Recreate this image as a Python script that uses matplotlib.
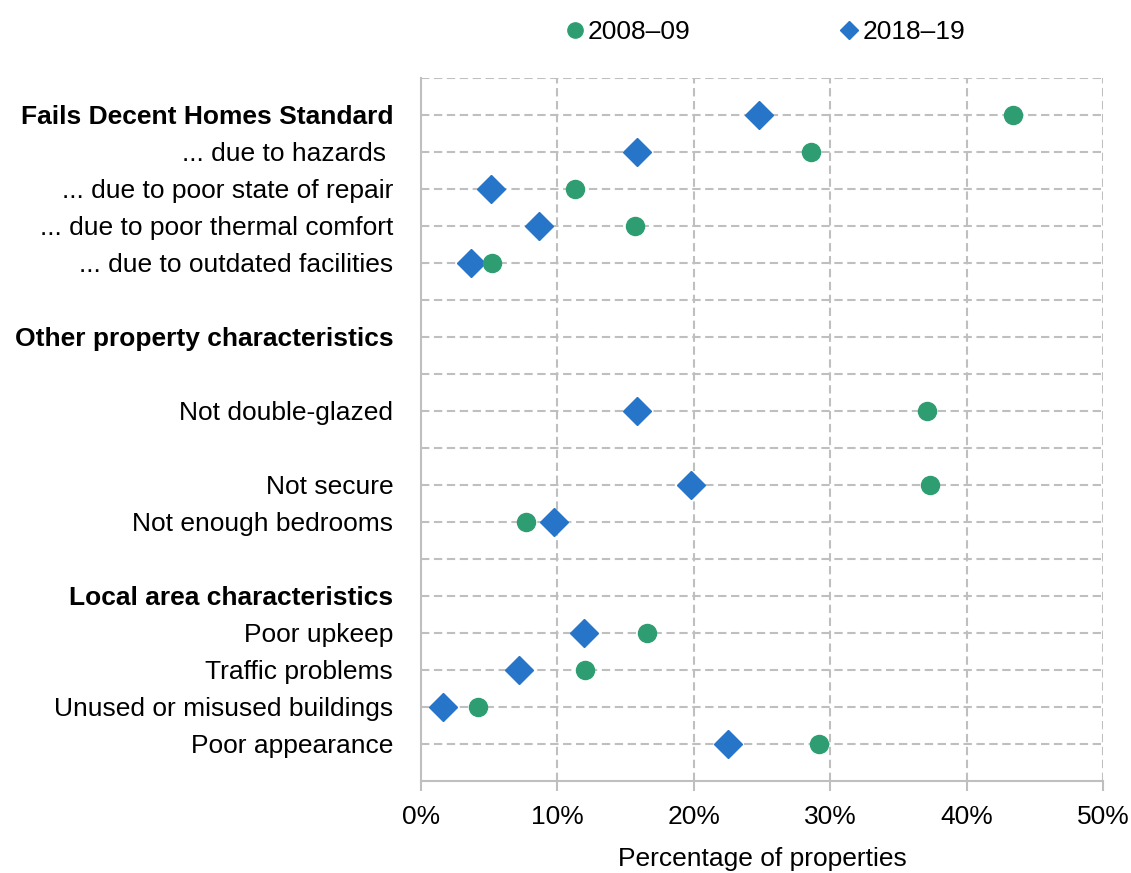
import numpy as np
import matplotlib
matplotlib.use("Agg")
import matplotlib.pyplot as plt
from matplotlib.lines import Line2D

plt.rcParams['font.family'] = ['Liberation Sans', 'DejaVu Sans']

labels = [
    'Fails Decent Homes Standard',
    '... due to hazards ',
    '... due to poor state of repair',
    '... due to poor thermal comfort',
    '... due to outdated facilities',
    '',
    'Other property characteristics',
    '',
    'Not double-glazed',
    '',
    'Not secure',
    'Not enough bedrooms',
    '',
    'Local area characteristics',
    'Poor upkeep',
    'Traffic problems',
    'Unused or misused buildings',
    'Poor appearance',
]
bold_labels = ['Fails Decent Homes Standard', 'Other property characteristics',
               'Local area characteristics']

# nan = no marker on that row
y2008 = [43.4, 28.6, 11.3, 15.7, 5.2, np.nan, np.nan, np.nan, 37.1, np.nan,
         37.3, 7.7, np.nan, np.nan, 16.6, 12.0, 4.2, 29.2]
y2018 = [24.8, 15.8, 5.1, 8.65, 3.7, np.nan, np.nan, np.nan, 15.8, np.nan,
         19.8, 9.75, np.nan, np.nan, 11.95, 7.2, 1.6, 22.5]

green = '#2E9E72'
blue = '#2775C8'
grid_c = '#BFBFBF'
fs = 19

fig = plt.figure(figsize=(11.31, 8.73), dpi=100)
ax = fig.add_axes([0.3722, 0.1054, 0.9753 - 0.3722, 0.9107 - 0.1054])

pos = np.arange(len(labels))
ax.set_ylim(18, -1)
ax.set_xlim(0, 50)

# grid lines
for y in range(-1, 18):
    ax.axhline(y, color=grid_c, lw=1.5, ls=(0, (4, 2.2)), zorder=1)
for x in range(10, 51, 10):
    ax.axvline(x, color=grid_c, lw=1.5, ls=(0, (4, 2.2)), zorder=1)

ax.plot(y2018, pos, 'D', color=blue, ms=14, ls='none', zorder=3)
ax.plot(y2008, pos, 'o', color=green, ms=13, ls='none', zorder=3)

ax.set_yticks(pos)
ax.set_yticklabels(labels, fontsize=fs)
for t in ax.get_yticklabels():
    if t.get_text() in bold_labels:
        t.set_fontweight('bold')
ax.tick_params(axis='y', length=0, pad=20)

ax.set_xticks(range(0, 51, 10))
ax.set_xticklabels([f'{v}%' for v in range(0, 51, 10)], fontsize=fs)
ax.tick_params(axis='x', length=7, width=1.5, color=grid_c, pad=10)
ax.set_xlabel('Percentage of properties', fontsize=fs, labelpad=13)

for s in ['top', 'right']:
    ax.spines[s].set_visible(False)
for s in ['left', 'bottom']:
    ax.spines[s].set_color(grid_c)
    ax.spines[s].set_linewidth(1.5)

handles = [
    Line2D([], [], marker='o', color=green, ls='none', ms=11),
    Line2D([], [], marker='D', color=blue, ls='none', ms=9),
]
fig.legend(handles, ['2008\u201309', '2018\u201319'], loc='center',
           bbox_to_anchor=(0.675, 0.963), ncol=2, frameon=False, fontsize=fs,
           handletextpad=0.0, columnspacing=5.5, handlelength=1.0)

fig.savefig('out.png', dpi=100)
